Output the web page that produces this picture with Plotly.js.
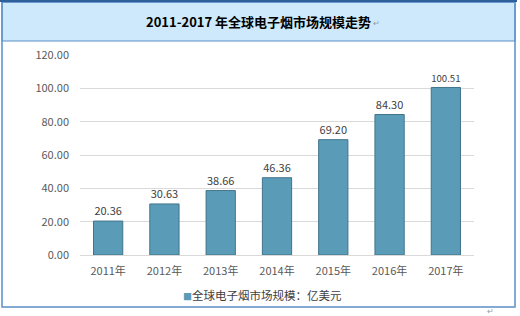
<!DOCTYPE html>
<html>
<head>
<meta charset="utf-8">
<script src="https://cdn.plot.ly/plotly-3.0.1.min.js"></script>
<style>html,body{margin:0;padding:0;background:#fff;}#chart{width:520px;height:316px;}</style>
</head>
<body>
<div id="chart"></div>
<script>
var years = ["2011年","2012年","2013年","2014年","2015年","2016年","2017年"];
var marketSize = [20.36, 30.63, 38.66, 46.36, 69.20, 84.30, 100.51];
var seriesName = "全球电子烟市场规模：亿美元";
var chartTitle = "2011-2017 年全球电子烟市场规模走势";
var yTicks = [0, 20, 40, 60, 80, 100, 120];

var W = 520, H = 316;
function px(x){return x/W;}
function py(y){return 1 - y/H;}

var font = "'Noto Sans CJK SC', 'Liberation Sans', Arial, sans-serif";
var barColor = "#5a9cb8";

var trace = {
  type: "bar",
  x: years,
  y: marketSize,
  name: seriesName,
  marker: {color: barColor, line: {color: "#41748b", width: 1}},
  text: marketSize.map(function(v){return v.toFixed(2);}),
  textposition: "outside",
  textfont: {size: 11, color: "#404040", family: font},
  cliponaxis: false,
  hoverinfo: "none"
};

var layout = {
  width: W, height: H,
  margin: {l: 0, r: 0, t: 0, b: 0},
  paper_bgcolor: "#ffffff",
  plot_bgcolor: "#ffffff",
  font: {family: font, color: "#595959", size: 11},
  bargap: 0.48,
  showlegend: false,
  xaxis: {
    domain: [px(80), px(474)],
    showgrid: false, zeroline: false, showline: false,
    ticks: "", ticklabelstandoff: 8,
    tickfont: {size: 11, color: "#595959"}, fixedrange: true
  },
  yaxis: {
    domain: [py(255), py(55)],
    range: [0, 120], tickvals: yTicks, ticktext: yTicks.map(function(v){return v.toFixed(2);}),
    showgrid: true, gridcolor: "#d9d9d9", gridwidth: 1,
    zeroline: true, zerolinecolor: "#d9d9d9", showline: false, ticks: "",
    ticklabelstandoff: 10,
    tickfont: {size: 11, color: "#595959"}, fixedrange: true
  },
  shapes: [
    {type: "rect", xref: "paper", yref: "paper", x0: px(2), x1: px(515), y0: py(41), y1: py(2),
     fillcolor: "#cde9fb", line: {color: "#5b8ec7", width: 1}, layer: "below"},
    {type: "rect", xref: "paper", yref: "paper", x0: px(2), x1: px(515), y0: py(307), y1: py(2),
     fillcolor: "rgba(0,0,0,0)", line: {color: "#5b8ec7", width: 1.5}, layer: "below"},
    {type: "line", xref: "paper", yref: "paper", x0: px(0), x1: px(517), y0: py(1), y1: py(1),
     line: {color: "#2f5f9a", width: 2}}
  ],
  annotations: [
    {text: "<b>" + chartTitle + "</b>", xref: "paper", yref: "paper", x: px(258), y: py(21),
     xanchor: "center", yanchor: "middle", showarrow: false,
     font: {size: 13, color: "#000000", family: font}},
    {text: "↵", xref: "paper", yref: "paper", x: px(371), y: py(22), xanchor: "left", yanchor: "middle",
     showarrow: false, font: {size: 8, color: "#999999"}},
    {text: '<span style="color:' + barColor + ';font-size:9px">■</span>' + seriesName, xref: "paper", yref: "paper",
     x: px(262), y: py(295), xanchor: "center", yanchor: "middle", showarrow: false,
     font: {size: 11.5, color: "#404040", family: font}},
    {text: "↵", xref: "paper", yref: "paper", x: px(490), y: py(310), xanchor: "center", yanchor: "middle",
     showarrow: false, font: {size: 8, color: "#999999"}}
  ]
};

Plotly.newPlot("chart", [trace], layout, {displayModeBar: false, staticPlot: true});
</script>
</body>
</html>
